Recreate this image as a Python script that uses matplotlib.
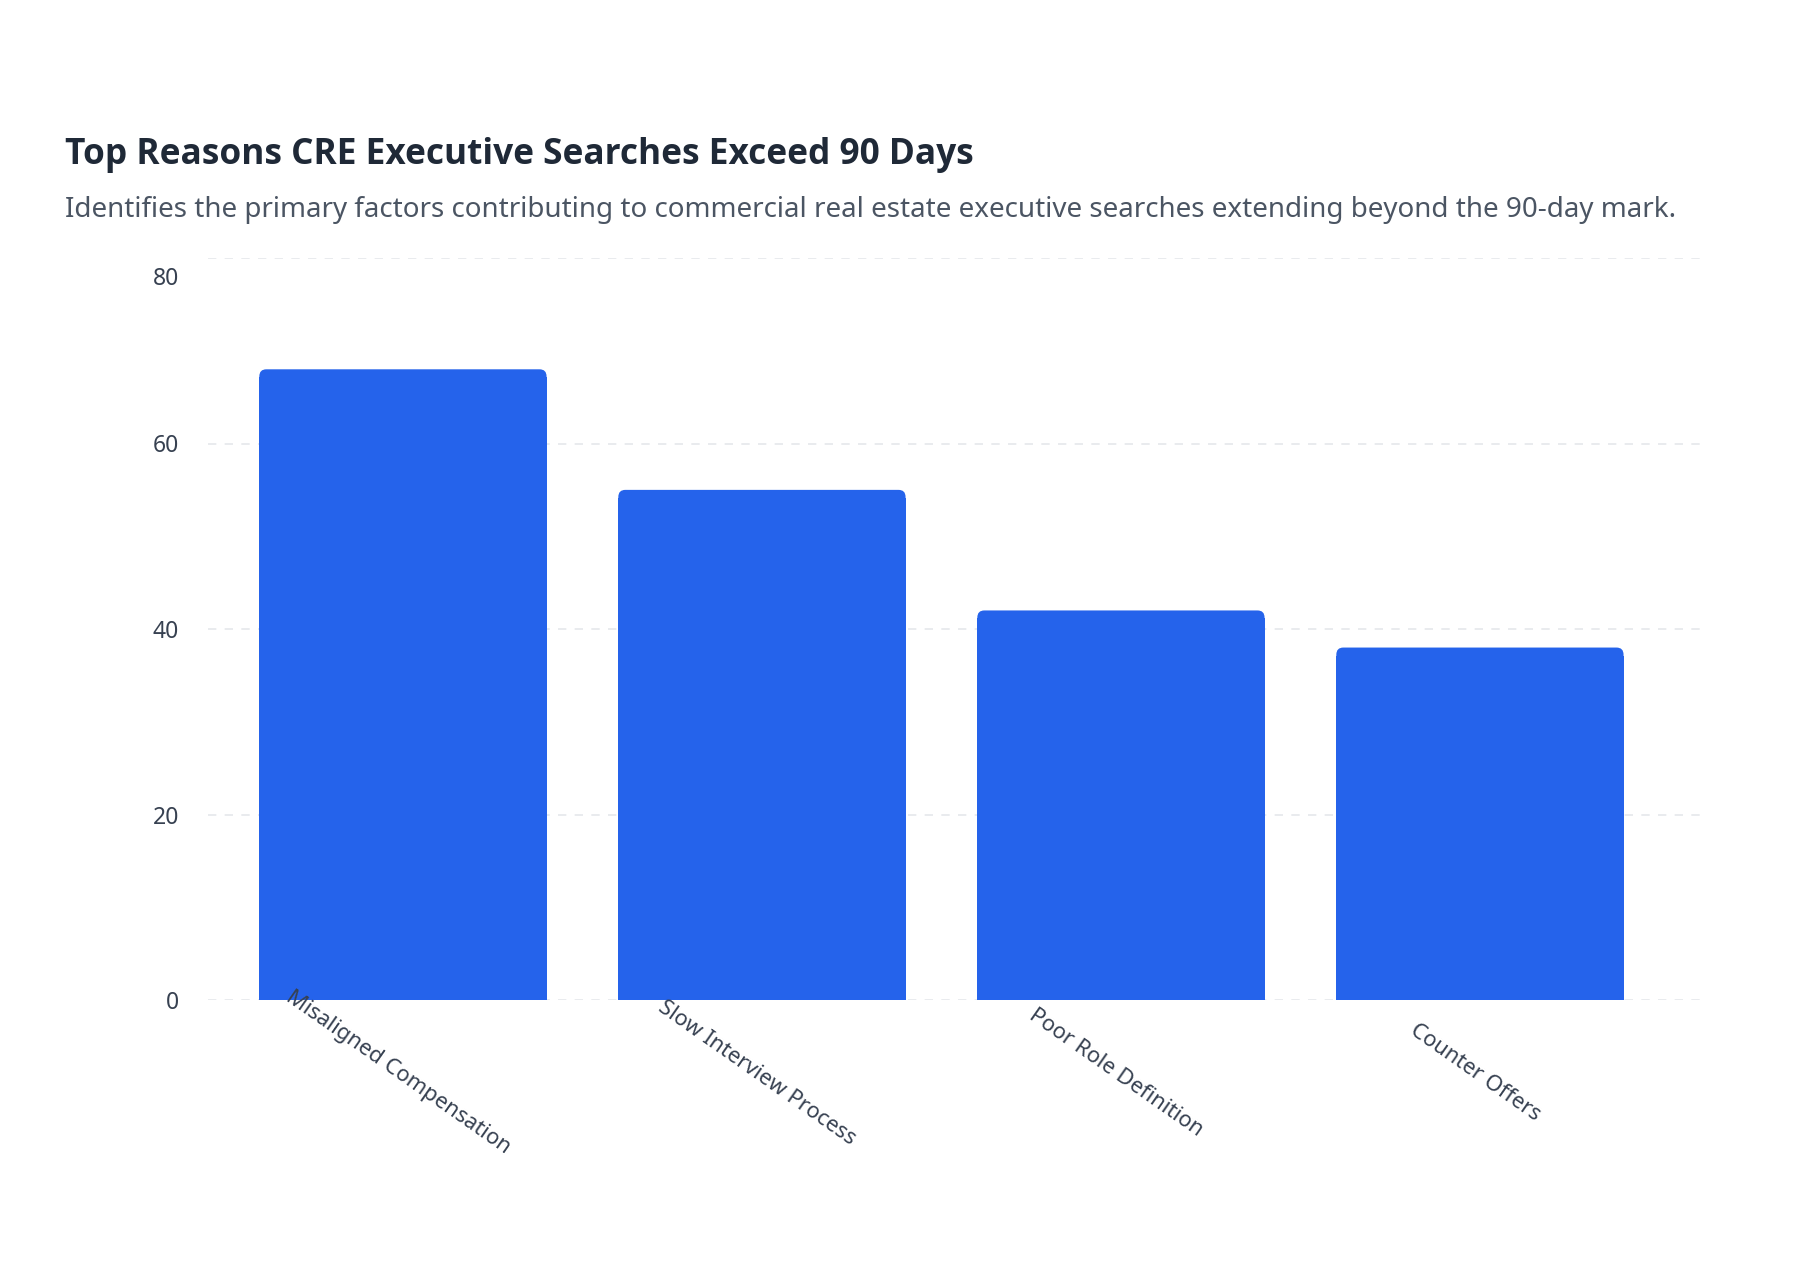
import matplotlib
matplotlib.use('Agg')

import matplotlib.pyplot as plt
import matplotlib.transforms as mtransforms
from matplotlib.patches import FancyBboxPatch, Rectangle

plt.rcParams['font.family'] = ['Noto Sans', 'DejaVu Sans']

# data
categories = ['Misaligned Compensation', 'Slow Interview Process',
              'Poor Role Definition', 'Counter Offers']
values = [68, 55, 42, 38]
y_ticks = [0, 20, 40, 60, 80]

title = 'Top Reasons CRE Executive Searches Exceed 90 Days'
subtitle = ('Identifies the primary factors contributing to commercial real estate '
            'executive searches extending beyond the 90-day mark.')

bar_color = '#2563EB'
W, H = 1812, 1270
fig = plt.figure(figsize=(W / 100, H / 100), dpi=100)
fig.patch.set_facecolor('white')

# plot area in pixels: x 208..1700, y 258..1000 (from top)
ax = fig.add_axes([208 / W, (H - 1000) / H, (1700 - 208) / W, (1000 - 258) / H])

# dashed grid under the bars, tick labels stay on top
for t in y_ticks:
    ax.axhline(t, color='#E5E7EB', linestyle=(0, (5, 5)), linewidth=1.2, zorder=0)

x = list(range(len(categories)))
bars = ax.bar(x, values, width=0.8, color=bar_color, zorder=2)

ax.set_xlim(-0.543, 3.613)
ax.set_ylim(0, 80)

# rounded top corners (radius ~7px)
px_x = 1 / 359.0
px_y = 80 / 742.0
r = 7 * px_x
aspect = px_y / px_x
for b in bars:
    b.set_visible(False)
    bx, bw, bh = b.get_x(), b.get_width(), b.get_height()
    top = FancyBboxPatch((bx, 0), bw, bh,
                         boxstyle='round,pad=0,rounding_size=%f' % r,
                         mutation_aspect=aspect,
                         facecolor=bar_color, edgecolor='none', zorder=2)
    ax.add_patch(top)
    ax.add_patch(Rectangle((bx, 0), bw, bh - 8 * px_y,
                           facecolor=bar_color, edgecolor='none', zorder=2))

ax.set_axisbelow(False)
ax.set_yticks(y_ticks)
ax.set_yticklabels([str(v) for v in y_ticks])
ax.set_xticks(x)
ax.set_xticklabels(categories, rotation=-35, ha='center', va='center',
                   rotation_mode='anchor')

for s in ax.spines.values():
    s.set_visible(False)
ax.grid(False)
ax.tick_params(axis='y', length=0, pad=21, labelsize=16.5, labelcolor='#374151')
ax.tick_params(axis='x', length=0, pad=52.5, labelsize=15.8, labelcolor='#374151')

# labels sit a little left of the tick, top y label pushed down
shift = mtransforms.ScaledTranslation(-5 / 100, 0, fig.dpi_scale_trans)
for lab in ax.get_xticklabels():
    lab.set_transform(lab.get_transform() + shift)
offset = mtransforms.ScaledTranslation(0, -18 / 100, fig.dpi_scale_trans)
for tick in ax.yaxis.get_major_ticks():
    if tick.get_loc() == 80:
        tick.label1.set_transform(tick.label1.get_transform() + offset)

fig.text(65 / W, 1 - 164 / H, title, fontsize=25.35, fontweight='bold',
         family=['Open Sans', 'Noto Sans', 'DejaVu Sans'],
         color='#1F2937', ha='left', va='baseline')
fig.text(65 / W, 1 - 217 / H, subtitle, fontsize=20.0,
         color='#4B5563', ha='left', va='baseline')

plt.savefig('out.png', dpi=100, facecolor='white')
plt.close(fig)
